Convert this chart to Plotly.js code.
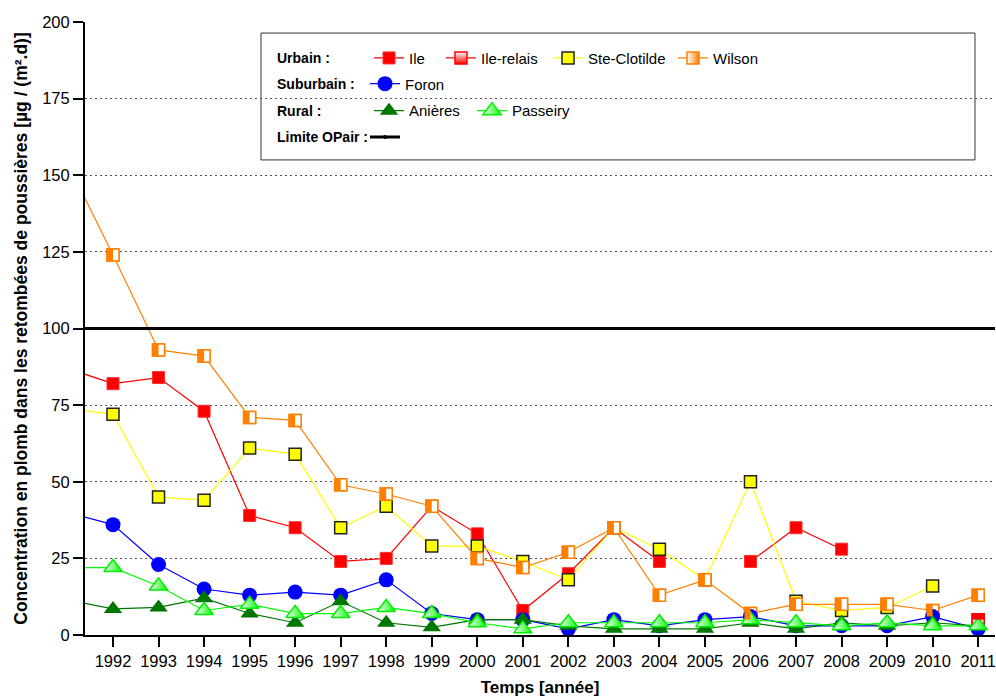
<!DOCTYPE html>
<html>
<head>
<meta charset="utf-8">
<script src="https://cdn.plot.ly/plotly-3.0.1.min.js"></script>
<style>html,body{margin:0;padding:0;background:#fff;}#chart{width:996px;height:700px;}</style>
</head>
<body>
<div id="chart"></div>
<script>
// Years (1991 is just off the left edge of the axis in the original)
const years = [1991,1992,1993,1994,1995,1996,1997,1998,1999,2000,2001,2002,2003,2004,2005,2006,2007,2008,2009,2010,2011];
const tickYears = [1992,1993,1994,1995,1996,1997,1998,1999,2000,2001,2002,2003,2004,2005,2006,2007,2008,2009,2010,2011];

const ile         = [87,82,84,73,39,35,24,25,42,33,8,20,35,24,null,24,35,28,null,null,null];
const ileRelais   = [null,null,null,null,null,null,null,null,null,null,null,null,null,null,null,null,null,null,null,null,5];
const steClotilde = [74,72,45,44,61,59,35,42,29,29,24,18,35,28,18,50,11,8,9,16,null];
const wilson      = [154,124,93,91,71,70,49,46,42,25,22,27,35,13,18,7,10,10,10,8,13];
const foron       = [40,36,23,15,13,14,13,18,7,5,5,2,5,3,5,6,3,3,3,6,2];
const anieres     = [11.5,8.5,9,12,7,4,11,4,2.5,5,5,3,2,2,2,4,2,4,3,4,3];
const passeiry    = [22,22,16,8,10,7,7,9,7,4,2,4,4,4,4,5,4,3,4,3,3];

const limitYears  = [1991,2012];
const limitValues = [100,100];

const categoryLabels = ['Urbain :','Suburbain :','Rural :','Limite OPair :'];

const font = 'Liberation Sans, Arial, sans-serif';

function tr(name, y, color, marker, legend) {
  return {x: years, y: y, name: name, type: 'scatter', mode: 'lines+markers',
    line: {color: color, width: 1.2}, marker: marker, legend: legend, cliponaxis: true};
}
function markersOnly(y, marker, xa, ya) {
  return {x: years, y: y, type:'scatter', mode:'markers', xaxis: xa, yaxis: ya, showlegend:false,
    hoverinfo:'skip', marker: marker, cliponaxis:true};
}

const data = [
  tr('Ile', ile, '#ff0000', {symbol:'square', size:12, color:'#ff0000', line:{color:'#ff3030', width:1}}, 'legend'),
  tr('Ile-relais', ileRelais, '#ff0000', {symbol:'square', size:12, color:'#ffffff', gradient:{type:'vertical', color:'#ff0000'}, line:{color:'#ff0000', width:1.5}}, 'legend2'),
  markersOnly(ileRelais, {symbol:'square', size:12, color:'#ffffff', line:{color:'#ff0000', width:1.5}}, 'x', 'y'),
  tr('Ste-Clotilde', steClotilde, '#ffff00', {symbol:'square', size:12, color:'#ffff00', line:{color:'#222222', width:1.5}}, 'legend3'),
  tr('Wilson', wilson, '#ff8000', {symbol:'square', size:12, color:'#ffffff', gradient:{type:'horizontal', color:'#ff8000'}, line:{color:'#ff8000', width:1.5}}, 'legend4'),
  markersOnly(wilson, {symbol:'square', size:12, color:'#ffffff', line:{color:'#ff8000', width:1.5}}, 'x', 'y'),
  tr('Foron', foron, '#0000ff', {symbol:'circle', size:15, color:'#0000ff', line:{width:0}}, 'legend5'),
  tr('Anières', anieres, '#007700', {symbol:'triangle-up', size:16, color:'#007700', line:{width:0}}, 'legend6'),
  tr('Passeiry', passeiry, '#00ff00', {symbol:'triangle-up', size:16, color:'#ffffff', gradient:{type:'horizontal', color:'#00ff00'}, line:{color:'#00ee00', width:1.5}}, 'legend7'),
  {x: limitYears, y: limitValues, name: ' ', type:'scatter', mode:'lines+markers', line:{color:'#000000', width:3},
   marker:{size:4, color:'#000'}, legend:'legend8', cliponaxis:true},
  // half-fill overlays (same data, drawn on overlay axes shifted by half a marker)
  markersOnly(wilson, {symbol:'line-ns', size:8.6, line:{color:'#ff8000', width:6}}, 'x2', 'y'),
  markersOnly(ileRelais, {symbol:'line-ew', size:8.6, line:{color:'#ff0000', width:6}}, 'x', 'y2')
];

const legendCommon = {orientation:'h', xanchor:'left', yanchor:'middle', bgcolor:'rgba(0,0,0,0)',
  borderwidth:0, font:{family:font, size:15, color:'#000'}, itemwidth:30, traceorder:'normal'};

const rowsY = [0.941, 0.899, 0.855, 0.812];
const legendPos = [
  [0.3121, 0], [0.3912, 0], [0.5088, 0], [0.6462, 0],
  [0.3077, 1], [0.3121, 2], [0.4253, 2], [0.3077, 3]
];

const annotations = categoryLabels.map((t,i)=>({text:'<b>'+t+'</b>', xref:'paper', yref:'paper', x:0.209, y:rowsY[i],
  xanchor:'left', yanchor:'middle', showarrow:false, font:{family:font, size:14, color:'#000'}}));

const xRange = [1991.385, 2011.37];
const yRange = [0, 200];
const pxPerYear = 45.53, pxPerUnit = 3.065, halfShift = 3;

const layout = {
  width: 996, height: 700,
  margin: {l:85, r:1, t:22, b:65},
  paper_bgcolor:'#fff', plot_bgcolor:'#fff',
  font: {family: font, size: 15, color:'#000'},
  showlegend: true,
  xaxis: {
    range: xRange, tickmode:'array', tickvals: tickYears, ticktext: tickYears.map(String),
    showgrid:false, zeroline:false, showline:true, linecolor:'#000', linewidth:2,
    ticks:'outside', ticklen:10, tickwidth:2, tickcolor:'#000',
    tickfont:{family:font, size:16.5, color:'#000'},
    title:{text:'<b>Temps [année]</b>', font:{family:font, size:17, color:'#000'}, standoff:12}
  },
  xaxis2: {overlaying:'x', visible:false, range:[xRange[0]+halfShift/pxPerYear, xRange[1]+halfShift/pxPerYear]},
  yaxis: {
    range:yRange, tickmode:'array', tickvals:[0,25,50,75,100,125,150,175,200],
    showgrid:true, gridcolor:'#555', griddash:'2px,3px', gridwidth:1,
    zeroline:false, showline:true, linecolor:'#000', linewidth:2,
    ticks:'outside', ticklen:10, tickwidth:2, tickcolor:'#000',
    tickfont:{family:font, size:16.5, color:'#000'},
    title:{text:'<b>Concentration en plomb dans les retombées de poussières [µg / (m².d)]</b>', font:{family:font, size:17.5, color:'#000'}, standoff:10}
  },
  yaxis2: {overlaying:'y', visible:false, range:[yRange[0]-halfShift/pxPerUnit, yRange[1]-halfShift/pxPerUnit]},
  annotations: annotations,
  shapes: [{type:'rect', xref:'paper', yref:'paper', x0:0.1934, x1:0.978, y0:0.775, y1:0.982,
    line:{color:'#333', width:1}, fillcolor:'rgba(255,255,255,1)', layer:'below'}]
};
legendPos.forEach((p,i)=>{
  const key = i===0 ? 'legend' : 'legend'+(i+1);
  layout[key] = Object.assign({}, legendCommon, {x:p[0], y:rowsY[p[1]]});
});

Plotly.newPlot('chart', data, layout, {displayModeBar:false, staticPlot:true});
</script>
</body>
</html>
